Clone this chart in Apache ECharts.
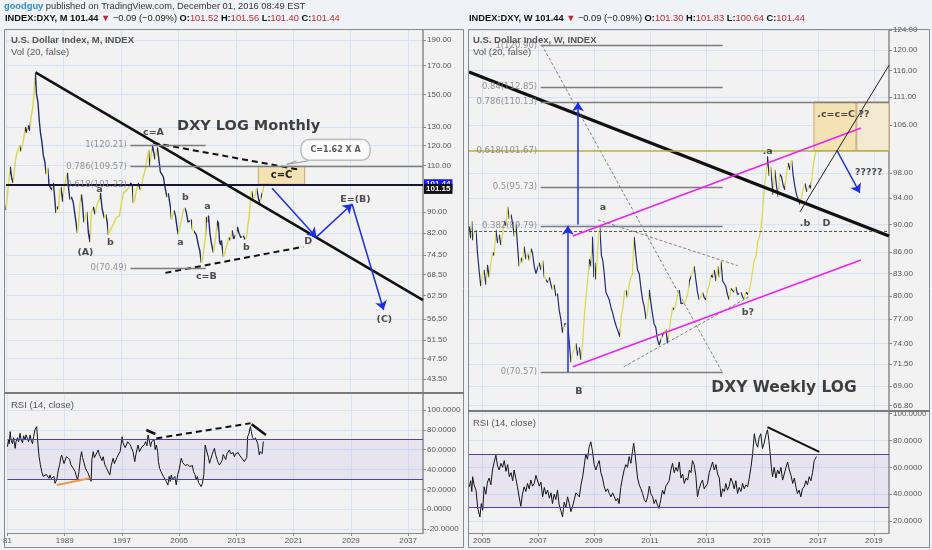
<!DOCTYPE html>
<html><head><meta charset="utf-8"><title>DXY</title>
<script src="https://cdn.jsdelivr.net/npm/echarts@6.0.0/dist/echarts.min.js"></script>
<style>html,body{margin:0;padding:0;background:#eff2f6;}#chart{width:932px;height:550px;}</style>
</head><body><div id="chart"></div>
<script>
// ---------------- DATA ----------------
const monthlyYears = [1981.0,1981.3,1981.6,1981.8,1982.0,1982.3,1982.5,1982.7,1982.9,1983.1,1983.4,1983.7,1983.9,1984.1,1984.3,1984.5,1984.7,1984.9,1985.0,1985.1,1985.25,1985.45,1985.65,1985.8,1986.0,1986.2,1986.4,1986.6,1986.8,1987.0,1987.2,1987.4,1987.6,1987.8,1987.95,1988.1,1988.3,1988.5,1988.65,1988.9,1989.1,1989.35,1989.55,1989.7,1989.9,1990.1,1990.35,1990.6,1990.94,1991.1,1991.3,1991.5,1991.64,1991.85,1992.0,1992.25,1992.48,1992.7,1992.9,1993.17,1993.4,1993.7,1994.0,1994.15,1994.4,1994.7,1994.9,1995.1,1995.26,1995.5,1995.8,1996.0,1996.3,1996.52,1996.8,1997.0,1997.35,1997.6,1997.9,1998.1,1998.33,1998.6,1998.74,1998.9,1999.1,1999.4,1999.72,1999.9,2000.1,2000.4,2000.69,2000.85,2001.0,2001.2,2001.39,2001.55,2001.75,2001.95,2002.09,2002.3,2002.5,2002.7,2002.92,2003.1,2003.4,2003.6,2003.9,2004.05,2004.25,2004.4,2004.6,2004.87,2005.0,2005.2,2005.45,2005.7,2005.9,2006.1,2006.35,2006.6,2006.8,2006.96,2007.2,2007.5,2007.7,2007.85,2008.0,2008.2,2008.35,2008.55,2008.75,2008.9,2009.05,2009.2,2009.4,2009.6,2009.89,2010.05,2010.25,2010.45,2010.58,2010.75,2010.9,2011.0,2011.28,2011.45,2011.65,2011.85,2012.0,2012.25,2012.5,2012.7,2012.95,2013.1,2013.23,2013.45,2013.7,2013.9,2014.06,2014.3,2014.5,2014.7,2014.9,2015.04,2015.2,2015.46,2015.6,2015.75,2015.9,2016.05,2016.2,2016.35,2016.5,2016.65,2016.8,2016.92];
const monthlyClose = [90.7,100,109.4,104,102,112,116,117.8,120,117,122,130,127,131,128,136,141,150,160,164,150,145,133,127,122,115,112,106,109,101,100,99,102,95,89.5,92,91,99,100.3,94,100,104,106.6,100,95,96,94,89,82.1,85,93,97,93.5,86,86.5,90,82,78.9,90,91.9,89,93,95,97.7,91,87.5,89,86,81.4,83,84.5,85.5,87.5,88,88.5,92,97.7,98,99,100.3,102,101,93.5,94.5,98,102,99,101,104.7,108,114,117.8,110,115,120.4,117,113,117,119,112.8,107,106,104.7,101,96,97.5,91.9,87,89,90.5,88.5,83.2,81.5,84,87,90.7,91.5,90,86,85.5,86.9,83.5,84,81.5,79,77.3,76,72.1,72.8,73,80,88,86,88.5,82,78.5,75.3,78,81.5,86.5,85.7,79,78,79.5,74,75,77,78.5,80.5,79.5,83,80,79.8,82,84.3,82,80.5,80.2,81,79.8,80.5,85,89,94.8,98.5,95,96,97,99.8,99.5,94.8,93.5,95.8,95.5,98.5,101.44];

const weeklyYears = [2004.55,2004.6,2004.64,2004.67,2004.72,2004.79,2004.84,2004.9,2004.96,2005.02,2005.08,2005.14,2005.2,2005.26,2005.32,2005.38,2005.44,2005.5,2005.56,2005.62,2005.68,2005.74,2005.8,2005.86,2005.92,2005.98,2006.04,2006.1,2006.16,2006.22,2006.28,2006.33,2006.4,2006.45,2006.51,2006.57,2006.63,2006.7,2006.76,2006.81,2006.87,2006.93,2006.99,2007.05,2007.11,2007.17,2007.23,2007.29,2007.35,2007.41,2007.46,2007.52,2007.58,2007.64,2007.7,2007.76,2007.82,2007.88,2007.94,2008.0,2008.06,2008.12,2008.18,2008.24,2008.3,2008.36,2008.42,2008.48,2008.54,2008.6,2008.66,2008.72,2008.78,2008.84,2008.9,2008.95,2009.0,2009.04,2009.07,2009.13,2009.17,2009.21,2009.27,2009.32,2009.37,2009.43,2009.49,2009.55,2009.61,2009.67,2009.73,2009.79,2009.86,2009.93,2009.98,2010.04,2010.09,2010.14,2010.2,2010.26,2010.32,2010.38,2010.41,2010.44,2010.5,2010.56,2010.62,2010.68,2010.74,2010.8,2010.86,2010.92,2010.98,2011.04,2011.1,2011.15,2011.21,2011.27,2011.33,2011.39,2011.45,2011.51,2011.57,2011.63,2011.69,2011.75,2011.81,2011.87,2011.93,2011.99,2012.05,2012.11,2012.17,2012.23,2012.29,2012.35,2012.41,2012.47,2012.53,2012.58,2012.64,2012.7,2012.76,2012.82,2012.88,2012.94,2013.0,2013.06,2013.12,2013.18,2013.24,2013.3,2013.36,2013.42,2013.48,2013.54,2013.6,2013.66,2013.71,2013.77,2013.83,2013.89,2013.95,2014.01,2014.07,2014.13,2014.19,2014.25,2014.31,2014.37,2014.43,2014.49,2014.55,2014.61,2014.67,2014.73,2014.79,2014.85,2014.9,2014.96,2015.02,2015.08,2015.14,2015.2,2015.26,2015.31,2015.35,2015.4,2015.46,2015.52,2015.58,2015.64,2015.7,2015.76,2015.82,2015.88,2015.94,2016.0,2016.06,2016.12,2016.18,2016.24,2016.3,2016.36,2016.42,2016.48,2016.54,2016.6,2016.65,2016.7,2016.74,2016.78,2016.83,2016.88,2016.93];
const weeklyClose = [89.7,88.0,90.5,87.7,88.8,89.2,86.0,83.5,81.3,82.8,83.5,81.5,84.2,82.5,84.4,86.0,85.5,89.2,87.3,88.5,87.0,88.7,90.5,89.8,92.7,90.8,91.5,90.1,88.2,90.0,86.5,84.0,85.2,84.5,86.8,85.0,85.8,84.8,86.5,85.8,84.0,83.0,82.8,84.5,83.5,84.8,82.5,82.6,81.8,82.5,81.6,80.8,81.5,80.0,80.3,78.2,77.0,75.3,76.4,76.2,76.4,74.2,71.7,72.8,73.2,74.0,72.5,73.5,72.0,74.0,77.5,80.0,82.2,85.0,84.0,88.2,82.5,84.5,82.2,86.0,88.5,89.7,85.5,84.8,83.0,80.5,80.0,79.5,78.5,77.8,76.9,76.2,75.5,74.8,77.5,78.5,80.5,80.8,79.8,81.5,82.5,83.0,86.0,88.2,85.5,83.5,83.0,81.0,79.5,78.6,77.0,78.0,80.8,79.0,77.5,76.4,76.0,74.5,73.8,73.6,75.0,74.8,75.7,74.0,74.0,77.0,78.5,78.2,79.0,80.2,80.8,79.0,78.8,79.1,79.5,80.2,82.0,81.8,83.2,84.0,82.2,80.5,79.5,79.9,80.5,79.8,79.5,80.8,81.5,82.8,82.5,83.5,82.0,84.0,82.5,84.7,82.0,81.8,81.3,80.2,79.5,81.0,80.8,80.5,81.2,80.2,80.0,80.5,79.9,79.6,80.5,80.2,80.8,81.8,83.5,84.8,85.4,87.5,88.0,89.2,91.5,95.3,97.5,100.7,97.5,99.0,96.9,94.5,98.5,96.0,94.2,97.8,97.4,96.0,95.3,98.0,99.6,98.5,100.1,97.5,95.8,94.5,94.2,93.0,93.2,95.5,96.3,95.0,95.3,96.0,95.5,96.9,99.0,100.5,101.44];

const monthlyRsiYears = [1981.0,1981.15,1981.25,1981.38,1981.5,1981.7,1981.85,1982.08,1982.2,1982.4,1982.55,1982.77,1982.9,1983.1,1983.25,1983.47,1983.6,1983.8,1983.95,1984.17,1984.3,1984.5,1984.65,1984.86,1985.09,1985.25,1985.42,1985.6,1985.79,1986.0,1986.25,1986.45,1986.6,1986.8,1986.95,1987.1,1987.3,1987.5,1987.65,1987.9,1988.11,1988.3,1988.45,1988.58,1988.75,1988.9,1989.04,1989.25,1989.51,1989.7,1989.85,1990.0,1990.2,1990.45,1990.6,1990.8,1991.0,1991.2,1991.36,1991.5,1991.7,1991.9,1992.06,1992.3,1992.52,1992.7,1992.8,1992.99,1993.15,1993.3,1993.5,1993.68,1993.85,1994.0,1994.2,1994.38,1994.6,1994.8,1994.98,1995.15,1995.31,1995.5,1995.77,1995.95,1996.1,1996.3,1996.47,1996.75,1997.03,1997.15,1997.3,1997.45,1997.63,1997.8,1998.0,1998.15,1998.33,1998.55,1998.79,1998.95,1999.1,1999.25,1999.45,1999.6,1999.8,1999.95,2000.15,2000.3,2000.5,2000.65,2000.8,2001.0,2001.15,2001.34,2001.5,2001.65,2001.81,2002.0,2002.1,2002.27,2002.45,2002.6,2002.8,2002.97,2003.2,2003.43,2003.6,2003.75,2003.9,2004.05,2004.25,2004.4,2004.59,2004.8,2005.0,2005.15,2005.29,2005.5,2005.7,2005.85,2005.99,2006.15,2006.3,2006.5,2006.68,2006.85,2007.0,2007.2,2007.38,2007.55,2007.7,2007.9,2008.08,2008.25,2008.45,2008.63,2008.8,2008.95,2009.1,2009.24,2009.4,2009.6,2009.75,2009.93,2010.1,2010.3,2010.45,2010.63,2010.8,2011.0,2011.15,2011.32,2011.5,2011.7,2011.85,2012.02,2012.2,2012.4,2012.55,2012.72,2012.9,2013.1,2013.25,2013.41,2013.6,2013.8,2013.95,2014.11,2014.3,2014.45,2014.57,2014.75,2014.95,2015.1,2015.25,2015.35,2015.5,2015.65,2015.8,2015.97,2016.1,2016.2,2016.3,2016.43,2016.6,2016.76];
const monthlyRsi = [63.0,70,66,78.2,70,66.0,72,61.3,68,72.0,68,76.5,70,67.0,74,69.8,75,74.0,68,74.8,70,66.0,73,80.5,83.2,66,52.9,45,37.8,33,31.1,35,36.0,31,34.5,31,30.0,33,26.1,30,39.5,45,52,54.6,50,46,47.9,53,54.6,50,45.0,47,41.2,38,34,29.4,38,52,58.0,52,47.0,41,39.5,36,31.1,28,50,58.0,52,52.0,57,59.7,55,56.0,49,52.9,45,42,39.5,38,34.5,44,51.3,46,46.0,52,54.6,58,73.1,67,68.0,62,64.7,68,70.0,65,64.7,58,47.9,55,60,64.7,58,57.0,63,61.3,65,68.0,64,74.8,70,63.0,68,66.4,70,60,64.7,58,48,41.2,38,36,33,32.8,28,24.4,33,28,34.5,30,29.0,33,24.4,35,40,46,51.3,47,49,44,42.9,45,47.0,43,41.2,44,38,35,29.4,33,27,26,22.7,26,35,64.7,60,58,52,46.2,50,55.0,58,61.3,55,50,47,44.5,43,49,55,52.9,50,56,54,59.7,56,55,57,52.9,56,58,57,54.6,53,51,50,47.9,48,52,73.1,76,83.2,78,72,74,69.8,72,70,66.4,60,54.6,58,58.0,56,68.1];

const weeklyRsiYears = [2004.55,2004.6,2004.64,2004.67,2004.72,2004.79,2004.85,2004.93,2004.98,2005.03,2005.08,2005.14,2005.2,2005.26,2005.32,2005.38,2005.44,2005.5,2005.56,2005.62,2005.68,2005.74,2005.8,2005.86,2005.92,2005.98,2006.04,2006.1,2006.15,2006.21,2006.27,2006.33,2006.39,2006.45,2006.51,2006.57,2006.63,2006.69,2006.75,2006.81,2006.87,2006.93,2006.99,2007.05,2007.11,2007.17,2007.23,2007.29,2007.35,2007.41,2007.47,2007.52,2007.58,2007.64,2007.7,2007.76,2007.82,2007.88,2007.94,2008.0,2008.06,2008.12,2008.18,2008.24,2008.3,2008.36,2008.42,2008.48,2008.54,2008.6,2008.66,2008.71,2008.77,2008.83,2008.89,2008.95,2009.01,2009.07,2009.13,2009.19,2009.25,2009.31,2009.37,2009.43,2009.49,2009.55,2009.61,2009.67,2009.73,2009.79,2009.85,2009.9,2009.96,2010.02,2010.08,2010.14,2010.2,2010.26,2010.32,2010.38,2010.42,2010.47,2010.52,2010.56,2010.62,2010.68,2010.74,2010.8,2010.86,2010.92,2010.98,2011.04,2011.1,2011.15,2011.21,2011.27,2011.33,2011.39,2011.45,2011.51,2011.57,2011.63,2011.69,2011.75,2011.81,2011.87,2011.93,2011.99,2012.05,2012.11,2012.17,2012.23,2012.29,2012.35,2012.41,2012.47,2012.52,2012.58,2012.64,2012.7,2012.76,2012.82,2012.88,2012.94,2013.0,2013.06,2013.12,2013.18,2013.24,2013.3,2013.36,2013.42,2013.48,2013.54,2013.6,2013.66,2013.71,2013.77,2013.83,2013.89,2013.95,2014.01,2014.07,2014.13,2014.19,2014.25,2014.31,2014.37,2014.43,2014.49,2014.55,2014.61,2014.67,2014.73,2014.79,2014.85,2014.9,2014.96,2015.02,2015.08,2015.14,2015.2,2015.25,2015.29,2015.34,2015.38,2015.44,2015.5,2015.56,2015.62,2015.68,2015.74,2015.8,2015.86,2015.92,2015.98,2016.04,2016.1,2016.16,2016.22,2016.27,2016.33,2016.39,2016.45,2016.51,2016.57,2016.63,2016.69,2016.75,2016.81,2016.87,2016.95];
const weeklyRsi = [45.5,50,42,53,47,43,30,23,33,28,45.5,40,49,52,47,58,64,69,61,58,63,60,65,57,62,53,56,50,58,52,45.5,38,31,40,45.5,42,48,44,50.5,46,48,54,53,46,49,38,45,40,43,37,41,33,40,36,43,32,28,23,34,30,38,33,27,31,36,41,40.5,38,47,53,62,70,66,75,79,72,62,58,62,65,56,52,45.5,42,44,40.5,38,41,38,35,37,33,45,52,58,62,60,68,63,72,78,70,60,52,47,44,40.5,36,34,38,46,40,38,33,36,32,29.5,36,43,40,46,45.5,50,58,63,56,60,57,64,52,55,48,52,50.5,58,56,65,62,54,38,44,48,50.5,44,46,48,56,60,64,58,62,55,52,38,44,42,48,43,46,52,49,44,50,40.5,45,42,48,44,47,45.5,52,60,70,85,78,75,82,85,74,78,84,88,80,71.5,60,53,60,52,58,55,60,50.5,55,60,64,58,54,48,52,45,40.5,43,38,44,45.5,50,47,53,50,56,65,68];

const leftYearTicks = [1981,1989,1997,2005,2013,2021,2029,2037];
const rightYearTicks = [2005,2007,2009,2011,2013,2015,2017,2019];
const leftPriceTicks = [43.5,47.5,51.5,56.5,62.5,68.5,74.5,82,90,110,120,130,150,170,190];
const rightPriceTicks = [66.8,69,71.5,74,77,80,83,86,90,94,98,106,111,116,120,124];
const leftRsiTicks = [-20,0,20,40,60,80,100];
const rightRsiTicks = [20,40,60,80,100];

// annotation geometry (in data units: year, price / rsi)
const leftTrend = [[1985.1,165],[2039.08,61.3]];
const leftUpperDash = [[2001.54,121.4],[2022.0,108.0]];
const leftLowerDash = [[2003.2,69.0],[2022.4,77.3]];
const leftFibValues = [120.21,109.57,101.22,70.49];
const leftFibNames = ['1(120.21)','0.786(109.57)','0.618(101.22)','0(70.49)'];
const leftFibStart = 1998.33, leftFibShortEnd = 2008.8;
const leftLastPrice = 101.44, leftSecondPrice = 101.15;
const leftBluePath = [[2018.06,99.7],[2024.23,80.6],[2029.2,93.1],[2033.6,58.7]];
const leftBox = [[2016.15,101.44],[2022.6,109.57]];
const leftCallout = [2026.9,117.8,'C=1.62 X A'];
const leftCalloutTail = [[2021.45,112.3],[2020.1,110.6],[2023.1,112.3]];
const leftWaveLabels = [[2001.54,126.8,'c=A'],[1994.0,99.0,'a'],[1995.55,78.6,'b'],[1992.06,75.3,'(A)'],[2005.99,95.6,'b'],[2005.3,78.9,'a'],[2009.05,91.9,'a'],[2014.5,76.9,'b'],[2008.9,67.8,'c=B'],[2023.1,79.1,'D'],[2029.66,95.1,'E=(B)'],[2033.7,56.4,'(C)']];
const leftTitle = [2014.8,130.7,'DXY LOG Monthly'];

const rightTrend = [[2004.54,115.7],[2019.54,88.3]];
const rightFibValues = [120.90,112.85,110.13,101.67,95.73,89.79,70.57];
const rightFibNames = ['1(120.90)','0.84(112.85)','0.786(110.13)','0.618(101.67)','0.5(95.73)','0.382(89.79)','0(70.57)'];
const rightFibStart = 2007.1, rightFibShortEnd = 2013.6;
const rightDashed = 88.97, rightLastPrice = 101.44;
const rightMagentaUpper = [[2008.25,88.3],[2018.54,105.5]];
const rightMagentaLower = [[2008.25,71.2],[2018.54,84.9]];
const rightBlueUp1 = [[2008.07,70.57],[2008.07,89.8]];
const rightBlueUp2 = [[2008.43,90.0],[2008.43,110.1]];
const rightBlueDown = [[2017.68,101.67],[2018.5,94.8]];
const rightThinLine = [[2016.36,91.9],[2019.54,117]];
const rightDotDiag = [[2007.14,121.0],[2013.61,70.4]];
const rightDotUpper = [[2009.14,90.7],[2014.14,84.1]];
const rightDotLower = [[2010.07,71.2],[2014.54,79.9]];
const rightBox1 = [[2016.86,101.67],[2018.36,110.13]];
const rightBox2 = [[2018.39,101.67],[2019.54,110.13]];
const rightWaveLabels = [[2015.21,101.5,'.a'],[2016.54,90.2,'.b'],[2017.31,90.2,'D'],[2009.32,92.6,'a'],[2014.5,77.8,'b?'],[2008.46,68.3,'B'],[2018.82,98.0,'?????'],[2017.91,107.8,'.c=c=C ??']];
const rightTitle = [2015.79,68.7,'DXY Weekly LOG'];
const rightTagValue = [79.5,'88.97'];

const leftRsiOrange = [[1987.9,24.4],[1992.5,31.1]];
const leftRsiDash = [[2001.81,71.4],[2014.97,86.6]];
const leftRsiShort1 = [[2000.41,79.8],[2001.67,75.8]];
const leftRsiShort2 = [[2015.13,85.5],[2017.13,74.8]];
const rightRsiLine = [[2015.2,90],[2017.05,71.5]];

// ---------------- STYLE HELPERS ----------------
const SPLIT = '#d5e3f4', AXIS = '#8a8a8a', LABEL = '#555';
const UP = '#d8d84a', DOWN = '#232a72';
const zip = (xs, ys) => xs.map((x, i) => [x, ys[i]]);
function dirPieces(xs, ys) {
  const p = [];
  for (let i = 0; i < xs.length - 1; i++) p.push({gte: xs[i], lt: xs[i + 1], color: ys[i + 1] >= ys[i] ? UP : DOWN});
  p.push({gte: xs[xs.length - 1], color: UP});
  return p;
}
function seg(a, b, style, arrow) {
  return [{coord: a, symbol: 'none', lineStyle: style}, {coord: b, symbol: arrow ? 'arrow' : 'none', symbolSize: arrow ? 9 : 0}];
}
function xAxisCfg(gi, min, max, ticks, labels, fmt) {
  return {type: 'value', gridIndex: gi, min, max,
    axisLine: {show: labels, onZero: false, lineStyle: {color: AXIS}},
    axisTick: {show: labels, customValues: ticks, length: 3, lineStyle: {color: AXIS}},
    axisLabel: {show: labels, customValues: ticks, color: LABEL, fontSize: 8, fontFamily: 'Liberation Sans', margin: 4, formatter: fmt},
    splitLine: {show: true, lineStyle: {color: SPLIT}}};
}
function yAxisCfg(gi, type, min, max, ticks, dec) {
  return {type, gridIndex: gi, min, max, position: 'right', logBase: 10,
    axisLine: {show: true, onZero: false, lineStyle: {color: AXIS, width: 1.5}},
    axisTick: {show: true, customValues: ticks, length: 3, lineStyle: {color: AXIS}},
    axisLabel: {customValues: ticks, color: LABEL, fontSize: 8, fontFamily: 'Liberation Sans', margin: 4, formatter: v => Number(v).toFixed(dec)},
    splitLine: {show: true, lineStyle: {color: SPLIT}}};
}
function tag(text, bg, fg) {
  return {show: true, position: 'end', distance: 1, formatter: text, backgroundColor: bg, color: fg, fontSize: 8, fontWeight: 'bold', fontFamily: 'Liberation Sans', padding: [1, 2]};
}
const waveLabel = {show: true, position: 'inside', color: '#222', fontSize: 9.5, fontWeight: 'bold', fontFamily: 'DejaVu Sans'};
const fibLabel = {show: true, position: 'left', distance: 3, color: '#7a7a7a', fontSize: 8.5, fontFamily: 'DejaVu Sans'};
function textSeries(xi, yi, items, label) {
  return {type: 'scatter', xAxisIndex: xi, yAxisIndex: yi, symbolSize: 1, itemStyle: {color: 'transparent'}, silent: true, z: 6,
    data: items.map(t => ({value: [t[0], t[1]], label: Object.assign({}, label, {formatter: t[2]})}))};
}
const black = {color: '#111', width: 2.5, type: 'solid'};
const dashBlack = {color: '#111', width: 2, type: [6, 4]};
const fibGrey = {color: '#7d7d7d', width: 1.3, type: 'solid'};
const blue = {color: '#1d2fe6', width: 1.5, type: 'solid'};
const magenta = {color: '#ee22ee', width: 1.6, type: 'solid'};
const dotted = {color: '#666', width: 0.8, type: [3, 2]};

// ---------------- MARKERS ----------------
const leftMarks = [
  seg(leftTrend[0], leftTrend[1], black),
  seg(leftUpperDash[0], leftUpperDash[1], dashBlack),
  seg(leftLowerDash[0], leftLowerDash[1], dashBlack),
  seg([leftFibStart, leftFibValues[0]], [leftFibShortEnd, leftFibValues[0]], fibGrey),
  seg([leftFibStart, leftFibValues[1]], [2039.08, leftFibValues[1]], fibGrey),
  seg([leftFibStart, leftFibValues[3]], [leftFibShortEnd, leftFibValues[3]], fibGrey),
  {yAxis: leftLastPrice, lineStyle: {color: '#15153a', width: 2, type: 'solid'}, label: tag('101.44', '#1414ff', '#fff')},
  [{coord: [2016.4, leftSecondPrice], symbol: 'none', lineStyle: {color: '#222', width: 1, type: [2, 2]}, label: Object.assign(tag('101.15', '#111', '#fff'), {offset: [0, 4]})}, {coord: [2039.08, leftSecondPrice], symbol: 'none'}],
  seg(leftBluePath[0], leftBluePath[1], blue, true),
  seg(leftBluePath[1], leftBluePath[2], blue, true),
  seg(leftBluePath[2], leftBluePath[3], blue, true),
  seg(leftCalloutTail[0], leftCalloutTail[1], {color: '#999', width: 1, type: 'solid'}),
  seg(leftCalloutTail[1], leftCalloutTail[2], {color: '#999', width: 1, type: 'solid'})
];
const rightMarks = [
  seg(rightTrend[0], rightTrend[1], {color: '#111', width: 3.2, type: 'solid'}),
  seg(rightDotDiag[0], rightDotDiag[1], dotted),
  seg(rightDotUpper[0], rightDotUpper[1], dotted),
  seg(rightDotLower[0], rightDotLower[1], dotted),
  ...[0, 1, 4, 5, 6].map(i => seg([rightFibStart, rightFibValues[i]], [rightFibShortEnd, rightFibValues[i]], fibGrey)),
  seg([rightFibStart, rightFibValues[2]], [2019.54, rightFibValues[2]], fibGrey),
  seg([2004.54, rightFibValues[3]], [2019.54, rightFibValues[3]], {color: '#b5b532', width: 1.5, type: 'solid'}),
  {yAxis: rightDashed, lineStyle: {color: '#333', width: 0.8, type: [3, 2]}},
  {yAxis: rightLastPrice, lineStyle: {opacity: 0}, label: tag('101.44', '#ffff14', '#222')},
  {yAxis: rightTagValue[0], lineStyle: {opacity: 0}, label: tag(rightTagValue[1], '#111', '#fff')},
  seg(rightMagentaUpper[0], rightMagentaUpper[1], magenta),
  seg(rightMagentaLower[0], rightMagentaLower[1], magenta),
  seg(rightBlueUp1[0], rightBlueUp1[1], blue, true),
  seg(rightBlueUp2[0], rightBlueUp2[1], blue, true),
  seg(rightBlueDown[0], rightBlueDown[1], blue, true),
  seg(rightThinLine[0], rightThinLine[1], {color: '#222', width: 1, type: 'solid'})
];
const rsiLevels = (extra) => ({silent: true, symbol: ['none', 'none'], label: {show: false}, animation: false,
  data: [{yAxis: 30, lineStyle: {color: '#4545b5', width: 1, type: 'solid'}}, {yAxis: 70, lineStyle: {color: '#4545b5', width: 1, type: 'solid'}}].concat(extra)});
const rsiBand = {silent: true, itemStyle: {color: 'rgba(165,140,225,0.13)'}, data: [[{yAxis: 30}, {yAxis: 70}]]};

const boxStyle = {color: '#f4e1b4', borderColor: '#c6a96f', borderWidth: 1};
const boxLabel = {show: true, position: 'inside', color: '#222', fontSize: 10, fontWeight: 'bold', fontFamily: 'DejaVu Sans'};
const hdr = {fontSize: 9.3, fontFamily: 'Liberation Sans'};

// ---------------- OPTION ----------------
const option = {
  animation: false,
  backgroundColor: '#eff2f6',
  grid: [
    {left: 6, top: 30, width: 417, height: 362},
    {left: 6, top: 394, width: 417, height: 139},
    {left: 469, top: 30, width: 420, height: 380},
    {left: 469, top: 412, width: 420, height: 121}
  ],
  xAxis: [
    xAxisCfg(0, 1981, 2039.08, leftYearTicks, false),
    xAxisCfg(1, 1981, 2039.08, leftYearTicks, true, v => v === 1981 ? '81' : String(v)),
    xAxisCfg(2, 2004.54, 2019.54, rightYearTicks, false),
    xAxisCfg(3, 2004.54, 2019.54, rightYearTicks, true, v => String(v))
  ],
  yAxis: [
    yAxisCfg(0, 'log', 41.1, 198.4, leftPriceTicks, 2),
    yAxisCfg(1, 'value', -24, 116.1, leftRsiTicks, 4),
    yAxisCfg(2, 'log', 66.3, 124.0, rightPriceTicks, 2),
    yAxisCfg(3, 'value', 11.1, 101.2, rightRsiTicks, 4)
  ],
  visualMap: [
    {type: 'piecewise', show: false, seriesIndex: 0, dimension: 0, pieces: dirPieces(monthlyYears, monthlyClose), outOfRange: {color: DOWN}},
    {type: 'piecewise', show: false, seriesIndex: 1, dimension: 0, pieces: dirPieces(weeklyYears, weeklyClose), outOfRange: {color: DOWN}}
  ],
  series: [
    {type: 'line', xAxisIndex: 0, yAxisIndex: 0, data: zip(monthlyYears, monthlyClose), showSymbol: false, symbol: 'none', lineStyle: {width: 1.4}, z: 3,
      markLine: {silent: true, symbol: ['none', 'none'], label: {show: false}, data: leftMarks},
      markArea: {silent: true, itemStyle: boxStyle, label: boxLabel, data: [[{coord: leftBox[0], name: 'c=C'}, {coord: leftBox[1]}]]}},
    {type: 'line', xAxisIndex: 2, yAxisIndex: 2, data: zip(weeklyYears, weeklyClose), showSymbol: false, symbol: 'none', lineStyle: {width: 1.2}, z: 3,
      markLine: {silent: true, symbol: ['none', 'none'], label: {show: false}, data: rightMarks},
      markArea: {silent: true, itemStyle: boxStyle, label: {show: false}, data: [
        [{coord: rightBox1[0]}, {coord: rightBox1[1]}],
        [{coord: rightBox2[0], itemStyle: {color: '#f4ead2', borderColor: '#c6a96f', borderWidth: 1}}, {coord: rightBox2[1]}]
      ]}},
    {type: 'line', xAxisIndex: 1, yAxisIndex: 1, data: zip(monthlyRsiYears, monthlyRsi), showSymbol: false, symbol: 'none', lineStyle: {color: '#151515', width: 1}, z: 3,
      markArea: rsiBand,
      markLine: rsiLevels([
        seg(leftRsiOrange[0], leftRsiOrange[1], {color: '#f0984a', width: 2, type: 'solid'}),
        seg(leftRsiDash[0], leftRsiDash[1], {color: '#111', width: 2, type: [6, 4]}),
        seg(leftRsiShort1[0], leftRsiShort1[1], {color: '#111', width: 2.5, type: 'solid'}),
        seg(leftRsiShort2[0], leftRsiShort2[1], {color: '#111', width: 2.5, type: 'solid'})
      ])},
    {type: 'line', xAxisIndex: 3, yAxisIndex: 3, data: zip(weeklyRsiYears, weeklyRsi), showSymbol: false, symbol: 'none', lineStyle: {color: '#151515', width: 1}, z: 3,
      markArea: rsiBand,
      markLine: rsiLevels([seg(rightRsiLine[0], rightRsiLine[1], {color: '#111', width: 2, type: 'solid'})])},
    textSeries(0, 0, leftWaveLabels, waveLabel),
    textSeries(0, 0, leftFibValues.map((v, i) => [leftFibStart, v, leftFibNames[i]]), fibLabel),
    textSeries(0, 0, [leftTitle], {show: true, position: 'inside', color: '#111', fontSize: 14.5, fontWeight: 'bold', fontFamily: 'DejaVu Sans'}),
    textSeries(0, 0, [leftCallout], {show: true, position: 'inside', color: '#333', fontSize: 8, fontWeight: 'bold', fontFamily: 'DejaVu Sans', backgroundColor: '#fdfdfd', borderColor: '#9a9a9a', borderWidth: 1, borderRadius: 8, padding: [6, 9]}),
    textSeries(2, 2, rightWaveLabels, waveLabel),
    textSeries(2, 2, rightFibValues.map((v, i) => [rightFibStart, v, rightFibNames[i]]), fibLabel),
    textSeries(2, 2, [rightTitle], {show: true, position: 'inside', color: '#111', fontSize: 15.5, fontWeight: 'bold', fontFamily: 'DejaVu Sans'})
  ],
  graphic: [
    {type: 'rect', z: -100, silent: true, shape: {x: 4, y: 29, width: 460, height: 519}, style: {fill: '#f2f2f2'}},
    {type: 'rect', z: -100, silent: true, shape: {x: 468, y: 29, width: 462, height: 519}, style: {fill: '#f2f2f2'}},
    {type: 'rect', z: 100, silent: true, shape: {x: 4.5, y: 29.5, width: 459, height: 518}, style: {fill: 'none', stroke: '#8a8a8a', lineWidth: 1}},
    {type: 'rect', z: 100, silent: true, shape: {x: 468.5, y: 29.5, width: 461, height: 518}, style: {fill: 'none', stroke: '#8a8a8a', lineWidth: 1}},
    {type: 'line', z: 100, silent: true, shape: {x1: 4, y1: 393, x2: 464, y2: 393}, style: {stroke: '#7a7a7a', lineWidth: 2}},
    {type: 'line', z: 100, silent: true, shape: {x1: 468, y1: 411, x2: 930, y2: 411}, style: {stroke: '#7a7a7a', lineWidth: 2}},
    {type: 'text', x: 4, y: 2, silent: true, style: Object.assign({text: '{u|goodguy} published on TradingView.com, December 01, 2016 08:49 EST', fill: '#333', rich: {u: Object.assign({fill: '#2b8fd8', fontWeight: 'bold'}, hdr)}}, hdr)},
    {type: 'text', x: 5, y: 14, silent: true, style: Object.assign({text: '{b|INDEX:DXY, M} {b|101.44} {r|▼} −0.09 (−0.09%) {b|O:}{r|101.52} {b|H:}{r|101.56} {b|L:}{r|101.40} {b|C:}{r|101.44}', fill: '#222',
      rich: {b: Object.assign({fontWeight: 'bold', fill: '#111'}, hdr), r: Object.assign({fill: '#c0282d'}, hdr)}}, hdr)},
    {type: 'text', x: 469, y: 14, silent: true, style: Object.assign({text: '{b|INDEX:DXY, W} {b|101.44} {r|▼} −0.09 (−0.09%) {b|O:}{r|101.30} {b|H:}{r|101.83} {b|L:}{r|100.64} {b|C:}{r|101.44}', fill: '#222',
      rich: {b: Object.assign({fontWeight: 'bold', fill: '#111'}, hdr), r: Object.assign({fill: '#c0282d'}, hdr)}}, hdr)},
    {type: 'text', x: 11, y: 35, z: 50, silent: true, style: {text: 'U.S. Dollar Index, M, INDEX', fontSize: 9.5, fontWeight: 'bold', fontFamily: 'Liberation Sans', fill: '#555'}},
    {type: 'text', x: 11, y: 47, z: 50, silent: true, style: {text: 'Vol (20, false)', fontSize: 9.5, fontFamily: 'Liberation Sans', fill: '#555'}},
    {type: 'text', x: 473, y: 35, z: 50, silent: true, style: {text: 'U.S. Dollar Index, W, INDEX', fontSize: 9.5, fontWeight: 'bold', fontFamily: 'Liberation Sans', fill: '#555'}},
    {type: 'text', x: 473, y: 47, z: 50, silent: true, style: {text: 'Vol (20, false)', fontSize: 9.5, fontFamily: 'Liberation Sans', fill: '#555'}},
    {type: 'text', x: 11, y: 400, z: 50, silent: true, style: {text: 'RSI (14, close)', fontSize: 9.5, fontFamily: 'Liberation Sans', fill: '#555'}},
    {type: 'text', x: 473, y: 418, z: 50, silent: true, style: {text: 'RSI (14, close)', fontSize: 9.5, fontFamily: 'Liberation Sans', fill: '#555'}}
  ]
};
const chart = echarts.init(document.getElementById('chart'));
chart.setOption(option);
</script></body></html>
